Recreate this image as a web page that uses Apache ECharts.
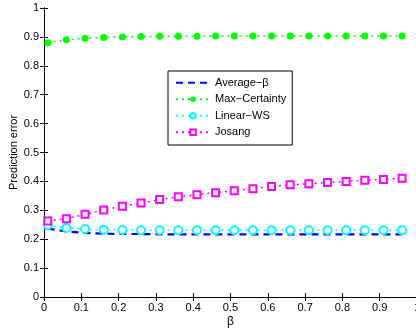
<!DOCTYPE html>
<html>
<head>
<meta charset="utf-8">
<script src="https://cdn.jsdelivr.net/npm/echarts@6/dist/echarts.min.js"></script>
<style>
html, body { margin: 0; padding: 0; background: #fff; }
#main { width: 416px; height: 333px; }
</style>
</head>
<body>
<div id="main"></div>
<script>
// beta values of the samples
var betaValues = [0.01, 0.06, 0.11, 0.16, 0.21, 0.26, 0.31, 0.36, 0.41, 0.46,
	0.51, 0.56, 0.61, 0.66, 0.71, 0.76, 0.81, 0.86, 0.91, 0.96];
var averageBeta = [0.237, 0.227, 0.222, 0.219, 0.218, 0.218, 0.217, 0.217, 0.217, 0.217,
	0.217, 0.217, 0.217, 0.217, 0.217, 0.217, 0.217, 0.217, 0.217, 0.217];
var maxCertainty = [0.880, 0.890, 0.895, 0.898, 0.900, 0.901, 0.902, 0.902, 0.902, 0.903,
	0.903, 0.903, 0.903, 0.903, 0.903, 0.903, 0.903, 0.903, 0.903, 0.903];
var linearWS = [0.248, 0.239, 0.235, 0.233, 0.232, 0.231, 0.231, 0.231, 0.231, 0.231,
	0.231, 0.231, 0.231, 0.231, 0.231, 0.231, 0.231, 0.231, 0.231, 0.231];
var josang = [0.263, 0.271, 0.286, 0.301, 0.314, 0.325, 0.337, 0.347, 0.354, 0.361,
	0.368, 0.375, 0.382, 0.388, 0.392, 0.396, 0.400, 0.404, 0.407, 0.411];
var seriesNames = ['Average\u2212\u03b2', 'Max\u2212Certainty', 'Linear\u2212WS', 'Josang'];

function pairs(ys) {
	var out = [];
	for (var i = 0; i < betaValues.length; i++) {
		out.push([betaValues[i], ys[i]]);
	}
	return out;
}

var font = 'Liberation Sans, Arial, Helvetica, sans-serif';
var axisText = { color: '#000', fontSize: 11, fontFamily: font };

var myChart = echarts.init(document.getElementById('main'));
var option = {
	animation: false,
	backgroundColor: '#fff',
	grid: { left: 44, top: 8, width: 373, height: 289, containLabel: false, outerBoundsMode: 'none' },
	legend: {
		orient: 'vertical',
		left: 168,
		top: 71,
		width: 112,
		padding: [5, 6, 6, 7],
		itemWidth: 34,
		itemHeight: 7,
		itemGap: 3,
		borderColor: '#000',
		borderWidth: 1,
		backgroundColor: '#fff',
		textStyle: { color: '#000', fontSize: 11, lineHeight: 13.5, fontFamily: font, padding: [0, 0, 0, 0] },
		data: [
			{ name: seriesNames[0], itemStyle: { opacity: 0 } },
			seriesNames[1], seriesNames[2], seriesNames[3]
		]
	},
	xAxis: [{
		type: 'value', position: 'bottom', min: 0, max: 1, interval: 0.1,
		name: '\u03b2', nameLocation: 'middle', nameGap: 19, nameMoveOverlap: false,
		nameTextStyle: { color: '#000', fontSize: 12, fontFamily: font },
		axisLine: { lineStyle: { color: '#000', width: 1 } },
		axisTick: { inside: true, length: 4, lineStyle: { color: '#000' } },
		axisLabel: Object.assign({ margin: 5, formatter: function (v) { return +v.toFixed(1) + ''; } }, axisText),
		splitLine: { show: false }
	}, {
		type: 'value', position: 'top', min: 0, max: 1, interval: 0.1,
		axisLine: { show: true, lineStyle: { color: '#000', width: 1 } },
		axisTick: { inside: true, length: 4, lineStyle: { color: '#000' } },
		axisLabel: { show: false },
		splitLine: { show: false }
	}],
	yAxis: [{
		type: 'value', position: 'left', min: 0, max: 1, interval: 0.1,
		name: 'Prediction error', nameLocation: 'middle', nameGap: 25, nameMoveOverlap: false,
		nameTextStyle: { color: '#000', fontSize: 11, fontFamily: font },
		axisLine: { show: true, lineStyle: { color: '#000', width: 1 } },
		axisTick: { show: true, inside: true, length: 4, lineStyle: { color: '#000' } },
		axisLabel: Object.assign({ margin: 5, formatter: function (v) { return +v.toFixed(1) + ''; } }, axisText),
		splitLine: { show: false }
	}, {
		type: 'value', position: 'right', min: 0, max: 1, interval: 0.1,
		axisLine: { show: true, lineStyle: { color: '#000', width: 1 } },
		axisTick: { show: true, inside: true, length: 4, lineStyle: { color: '#000' } },
		axisLabel: { show: false },
		splitLine: { show: false }
	}],
	series: [{
		name: seriesNames[0], type: 'line', data: pairs(averageBeta),
		showSymbol: false, symbol: 'none',
		lineStyle: { color: '#0000ff', width: 2.2, type: [7, 5] },
		itemStyle: { color: '#0000ff' }
	}, {
		name: seriesNames[1], type: 'line', data: pairs(maxCertainty),
		symbol: 'circle', symbolSize: 7,
		lineStyle: { color: '#00ff00', width: 1.5, type: [2, 4] },
		itemStyle: { color: '#00ff00' }
	}, {
		name: seriesNames[2], type: 'line', data: pairs(linearWS),
		symbol: 'emptyCircle', symbolSize: 8,
		lineStyle: { color: '#00ffff', width: 1.5, type: [2, 4] },
		itemStyle: { color: '#00ffff', borderColor: '#00ffff', borderWidth: 2.2 }
	}, {
		name: seriesNames[3], type: 'line', data: pairs(josang),
		symbol: 'emptyRect', symbolSize: 7,
		lineStyle: { color: '#ff00ff', width: 1.5, type: [2, 4] },
		itemStyle: { color: '#ff00ff', borderColor: '#ff00ff', borderWidth: 2 }
	}]
};
myChart.setOption(option);
</script>
</body>
</html>
